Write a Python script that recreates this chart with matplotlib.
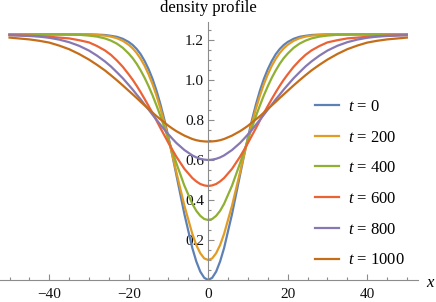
import numpy as np
import matplotlib
matplotlib.use("Agg")
import matplotlib.pyplot as plt
from matplotlib.ticker import MultipleLocator, FixedLocator

plt.rcParams['font.family'] = ['Liberation Serif', 'DejaVu Serif']
plt.rcParams['mathtext.fontset'] = 'custom'
plt.rcParams['mathtext.it'] = 'Liberation Serif:italic'
plt.rcParams['mathtext.rm'] = 'Liberation Serif'

# sample positions
x = [-50, -45, -42.5, -40, -37.5, -35, -32.5, -30, -28, -26, -24.5, -23, -21.5, -20, -19, -18, -17, -16,
     -15, -14, -13, -12, -11, -10, -9, -8, -6, -4, -3, -2, -1, 0,
     1, 2, 3, 4, 6, 8, 9, 10, 11, 12, 13, 14, 15, 16, 17, 18, 19, 20,
     21.5, 23, 24.5, 26, 28, 30, 32.5, 35, 37.5, 40, 42.5, 45, 50]

# density
rho_t0 = [1.228, 1.228, 1.228, 1.228, 1.228, 1.228, 1.228, 1.228, 1.227, 1.225, 1.221, 1.216, 1.206, 1.190, 1.175, 1.155, 1.129, 1.095,
          1.054, 1.005, 0.946, 0.877, 0.799, 0.713, 0.621, 0.524, 0.330, 0.160, 0.093, 0.042, 0.011, 0.000,
          0.011, 0.042, 0.093, 0.160, 0.330, 0.524, 0.621, 0.713, 0.799, 0.877, 0.946, 1.005, 1.054, 1.095, 1.129, 1.155, 1.175, 1.190,
          1.206, 1.216, 1.221, 1.225, 1.227, 1.228, 1.228, 1.228, 1.228, 1.228, 1.228, 1.228, 1.228]
rho_t200 = [1.228, 1.228, 1.228, 1.228, 1.228, 1.228, 1.228, 1.227, 1.225, 1.222, 1.217, 1.209, 1.196, 1.176, 1.158, 1.135, 1.106, 1.071,
            1.028, 0.979, 0.921, 0.856, 0.783, 0.705, 0.623, 0.538, 0.372, 0.231, 0.175, 0.134, 0.108, 0.100,
            0.108, 0.134, 0.175, 0.231, 0.372, 0.538, 0.623, 0.705, 0.783, 0.856, 0.921, 0.979, 1.028, 1.071, 1.106, 1.135, 1.158, 1.176,
            1.196, 1.209, 1.217, 1.222, 1.225, 1.227, 1.228, 1.228, 1.228, 1.228, 1.228, 1.228, 1.228]
rho_t400 = [1.228, 1.228, 1.228, 1.228, 1.228, 1.227, 1.226, 1.222, 1.217, 1.208, 1.197, 1.182, 1.161, 1.132, 1.109, 1.081, 1.048, 1.011,
            0.969, 0.923, 0.872, 0.819, 0.761, 0.701, 0.642, 0.583, 0.472, 0.381, 0.346, 0.321, 0.305, 0.300,
            0.305, 0.321, 0.346, 0.381, 0.472, 0.583, 0.642, 0.701, 0.761, 0.819, 0.872, 0.923, 0.969, 1.011, 1.048, 1.081, 1.109, 1.132,
            1.161, 1.182, 1.197, 1.208, 1.217, 1.222, 1.226, 1.227, 1.228, 1.228, 1.228, 1.228, 1.228]
rho_t600 = [1.225, 1.222, 1.219, 1.216, 1.212, 1.208, 1.199, 1.188, 1.170, 1.148, 1.126, 1.098, 1.066, 1.028, 1.001, 0.971, 0.939, 0.905,
            0.870, 0.834, 0.797, 0.759, 0.722, 0.685, 0.650, 0.616, 0.556, 0.510, 0.493, 0.480, 0.473, 0.470,
            0.473, 0.480, 0.493, 0.510, 0.556, 0.616, 0.650, 0.685, 0.722, 0.759, 0.797, 0.834, 0.870, 0.905, 0.939, 0.971, 1.001, 1.028,
            1.066, 1.098, 1.126, 1.148, 1.170, 1.188, 1.199, 1.208, 1.212, 1.216, 1.219, 1.222, 1.225]
rho_t800 = [1.224, 1.220, 1.217, 1.211, 1.202, 1.189, 1.171, 1.147, 1.122, 1.093, 1.068, 1.039, 1.009, 0.975, 0.952, 0.927, 0.903, 0.877,
            0.852, 0.826, 0.801, 0.776, 0.751, 0.728, 0.706, 0.685, 0.650, 0.623, 0.613, 0.606, 0.602, 0.600,
            0.602, 0.606, 0.613, 0.623, 0.650, 0.685, 0.706, 0.728, 0.751, 0.776, 0.801, 0.826, 0.852, 0.877, 0.903, 0.927, 0.952, 0.975,
            1.009, 1.039, 1.068, 1.093, 1.122, 1.147, 1.171, 1.189, 1.202, 1.211, 1.217, 1.220, 1.224]
rho_t1000 = [1.212, 1.203, 1.196, 1.187, 1.172, 1.154, 1.130, 1.102, 1.076, 1.048, 1.024, 0.999, 0.973, 0.946, 0.928, 0.910, 0.891, 0.873,
             0.855, 0.837, 0.819, 0.803, 0.787, 0.771, 0.757, 0.744, 0.722, 0.705, 0.699, 0.695, 0.693, 0.692,
             0.693, 0.695, 0.699, 0.705, 0.722, 0.744, 0.757, 0.771, 0.787, 0.803, 0.819, 0.837, 0.855, 0.873, 0.891, 0.910, 0.928, 0.946,
             0.973, 0.999, 1.024, 1.048, 1.076, 1.102, 1.130, 1.154, 1.172, 1.187, 1.196, 1.203, 1.212]

labels = ['0', '200', '400', '600', '800', '1000']
colors = ['#5E81B5', '#E19C24', '#8FB032', '#EB6235', '#8778B3', '#C56E1A']
series = [rho_t0, rho_t200, rho_t400, rho_t600, rho_t800, rho_t1000]

fig = plt.figure(figsize=(4.36, 3.02), dpi=100)
ax = fig.add_axes([0.0, 22 / 302, 418 / 436, 258 / 302])

for y, lab, c in zip(series, labels, colors):
    ax.plot(x, y, color=c, lw=1.6, label=r'$t$ = ' + lab)

ax.set_xlim(-52.4, 52.8)
ax.set_ylim(0, 1.29)

axis_col = '#8c8c8c'
for s in ['top', 'right']:
    ax.spines[s].set_visible(False)
ax.spines['left'].set_position(('data', 0))
ax.spines['bottom'].set_position(('data', 0))
ax.spines['left'].set_color(axis_col)
ax.spines['bottom'].set_color(axis_col)
ax.spines['left'].set_linewidth(0.8)
ax.spines['bottom'].set_linewidth(0.8)

ax.xaxis.set_major_locator(FixedLocator([-40, -20, 0, 20, 40]))
ax.xaxis.set_minor_locator(MultipleLocator(5))
ax.yaxis.set_major_locator(FixedLocator([0.2, 0.4, 0.6, 0.8, 1.0, 1.2]))
ax.yaxis.set_minor_locator(MultipleLocator(0.05))
ax.set_xticklabels(['\u221240', '\u221220', '0', '20', '40'])
ax.set_yticklabels(['0.2', '0.4', '0.6', '0.8', '1.0', '1.2'])
ax.tick_params(which='both', direction='in', color=axis_col, width=0.8, labelsize=11, labelcolor='#111111')
ax.tick_params(which='major', length=4.5)
ax.tick_params(which='minor', length=2.5)
ax.tick_params(axis='x', pad=6)
ax.tick_params(axis='y', pad=3)
ax.patch.set_alpha(0)

fig.text(208 / 436, 1 - 8 / 302, 'density profile', ha='center', va='center', fontsize=12)
fig.text(430 / 436, 1 - 283 / 302, 'x', ha='center', va='center', fontsize=12, style='italic')

ax.legend(loc='upper left', bbox_to_anchor=(315 / 436, 1 - 99 / 302), bbox_transform=fig.transFigure,
          frameon=False, fontsize=12, handlelength=1.44, handletextpad=0.54, labelspacing=0.88,
          borderpad=0, borderaxespad=0)

fig.savefig('out.png', dpi=100)
